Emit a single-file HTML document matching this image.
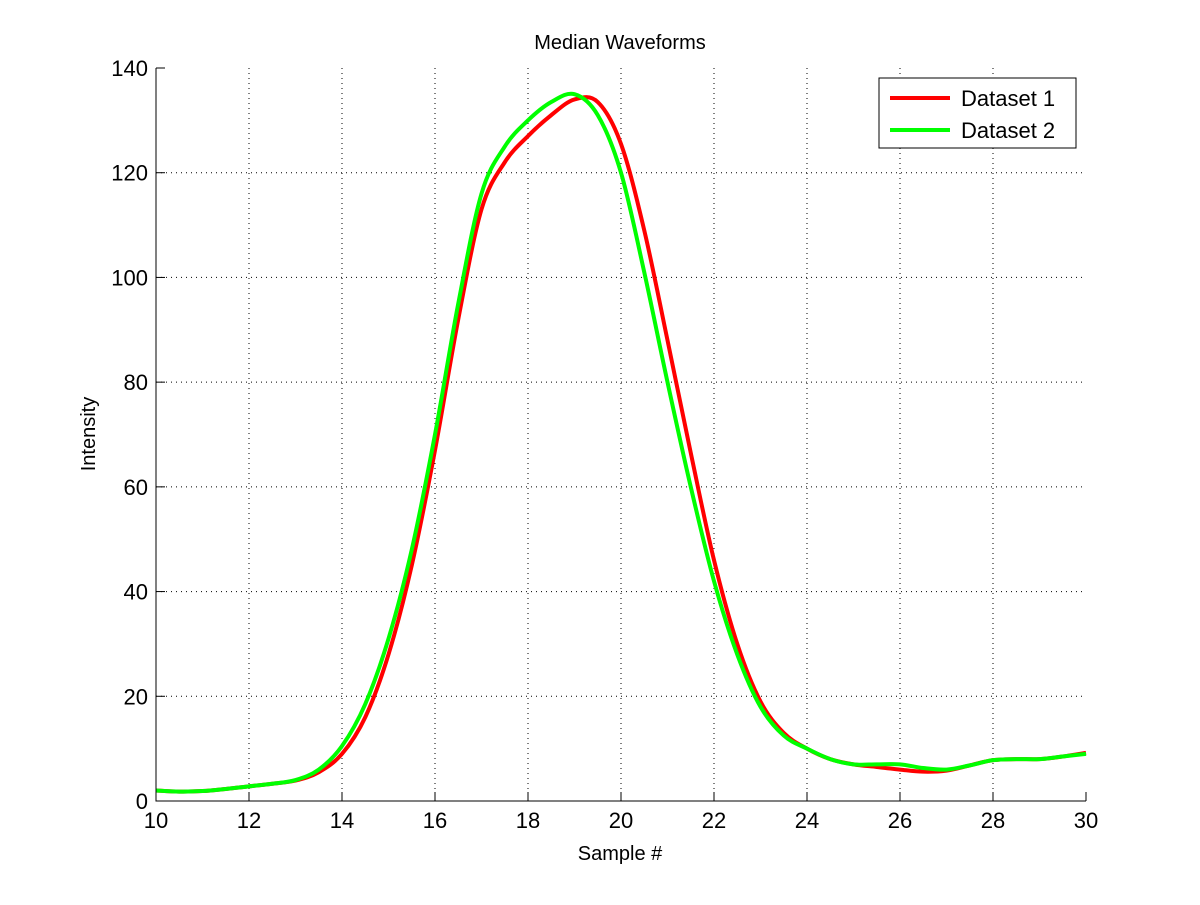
<!DOCTYPE html>
<html><head><meta charset="utf-8"><style>
body{margin:0;background:#fff;}
svg text{font-family:"Liberation Sans",Arial,sans-serif;fill:#000;}
</style></head><body>
<svg id="chart" width="1200" height="900" xmlns="http://www.w3.org/2000/svg">
<rect width="1200" height="900" fill="#fff"/>
<g id="grid"></g>
<g id="series"></g>
<g id="axes"></g>
<text x="620" y="49" font-size="20" text-anchor="middle">Median Waveforms</text>
<text x="620" y="860" font-size="20" text-anchor="middle">Sample #</text>
<text x="95" y="434" font-size="20" text-anchor="middle" transform="rotate(-90 95 434)">Intensity</text>
<g>
<rect x="879" y="78" width="197" height="70" fill="#fff" stroke="#000" stroke-width="1"/>
<line x1="890" y1="98" x2="950" y2="98" stroke="#ff0000" stroke-width="4"/>
<text x="961" y="106" font-size="22">Dataset 1</text>
<line x1="890" y1="130" x2="950" y2="130" stroke="#00ff00" stroke-width="4"/>
<text x="961" y="138" font-size="22">Dataset 2</text>
</g>
</svg>
<script>
const xs=[10,10.5,11,11.5,12,12.5,13,13.5,14,14.5,15,15.5,16,16.5,17,17.5,18,18.5,19,19.5,20,20.5,21,21.5,22,22.5,23,23.5,24,24.5,25,25.5,26,26.5,27,27.5,28,28.5,29,29.5,30];
const dataset1=[2,1.8,1.9,2.3,2.8,3.3,3.9,5.5,9,16,28,45,67,92,113,122,127,131,134,133.5,125.5,109,88,66.5,46,30,19,13,10,8,7,6.5,6,5.6,5.8,6.8,7.8,8,8,8.5,9.2];
const dataset2=[2,1.8,1.9,2.3,2.8,3.3,4,6,10.5,18.5,31,48,70,95,116,125,130,133.5,135,131,120,101,80,60,42,28,18,12.5,10,8,7,7,7,6.3,6,6.8,7.8,8,8,8.5,9];
const xTicks=[10,12,14,16,18,20,22,24,26,28,30];
const yTicks=[0,20,40,60,80,100,120,140];
const L=156,R=1086,T=68,B=801;
const sx=v=>L+(v-10)/20*(R-L), sy=v=>B-v/140*(B-T);
const NS="http://www.w3.org/2000/svg";
function mk(t,a,p){const e=document.createElementNS(NS,t);for(const k in a)e.setAttribute(k,a[k]);p.appendChild(e);return e;}
const grid=document.getElementById('grid'),axes=document.getElementById('axes'),ser=document.getElementById('series');
xTicks.forEach(v=>{const x=sx(v);
 if(v>10&&v<30){const g=mk('line',{x1:x,y1:T,x2:x,y2:B,stroke:'#000','stroke-width':1,'stroke-dasharray':'1,4'},grid);
 
 }
 const t1=mk('line',{x1:x,y1:B,x2:x,y2:B-9,stroke:'#000'},axes);
 
 
 const lb=mk('text',{x:x,y:B+27,'font-size':22,'text-anchor':'middle'},axes);lb.textContent=v;
 
 });
yTicks.forEach(v=>{const y=sy(v);
 if(v>0&&v<140){const g=mk('line',{x1:L,y1:y,x2:R,y2:y,stroke:'#000','stroke-width':1,'stroke-dasharray':'1,4'},grid);
 
 }
 const t1=mk('line',{x1:L,y1:y,x2:L+9,y2:y,stroke:'#000'},axes);
 
 
 const lb=mk('text',{x:L-8,y:y+8,'font-size':22,'text-anchor':'end'},axes);lb.textContent=v;
 
 });
const ax=mk('path',{d:`M${L},${T}V${B}H${R}`,fill:'none',stroke:'#000','stroke-width':1},axes);


function pathFor(ys){const p=xs.map((x,i)=>[sx(x),sy(ys[i])]);let d=`M${p[0][0]},${p[0][1]}`;
 for(let i=0;i<p.length-1;i++){const p0=p[Math.max(0,i-1)],p1=p[i],p2=p[i+1],p3=p[Math.min(p.length-1,i+2)];
 d+=` C${p1[0]+(p2[0]-p0[0])/6},${p1[1]+(p2[1]-p0[1])/6} ${p2[0]-(p3[0]-p1[0])/6},${p2[1]-(p3[1]-p1[1])/6} ${p2[0]},${p2[1]}`;}return d;}
const l1=mk('path',{d:pathFor(dataset1),fill:'none',stroke:'#ff0000','stroke-width':4},ser);


const l2=mk('path',{d:pathFor(dataset2),fill:'none',stroke:'#00ff00','stroke-width':4},ser);


</script>
</body></html>
